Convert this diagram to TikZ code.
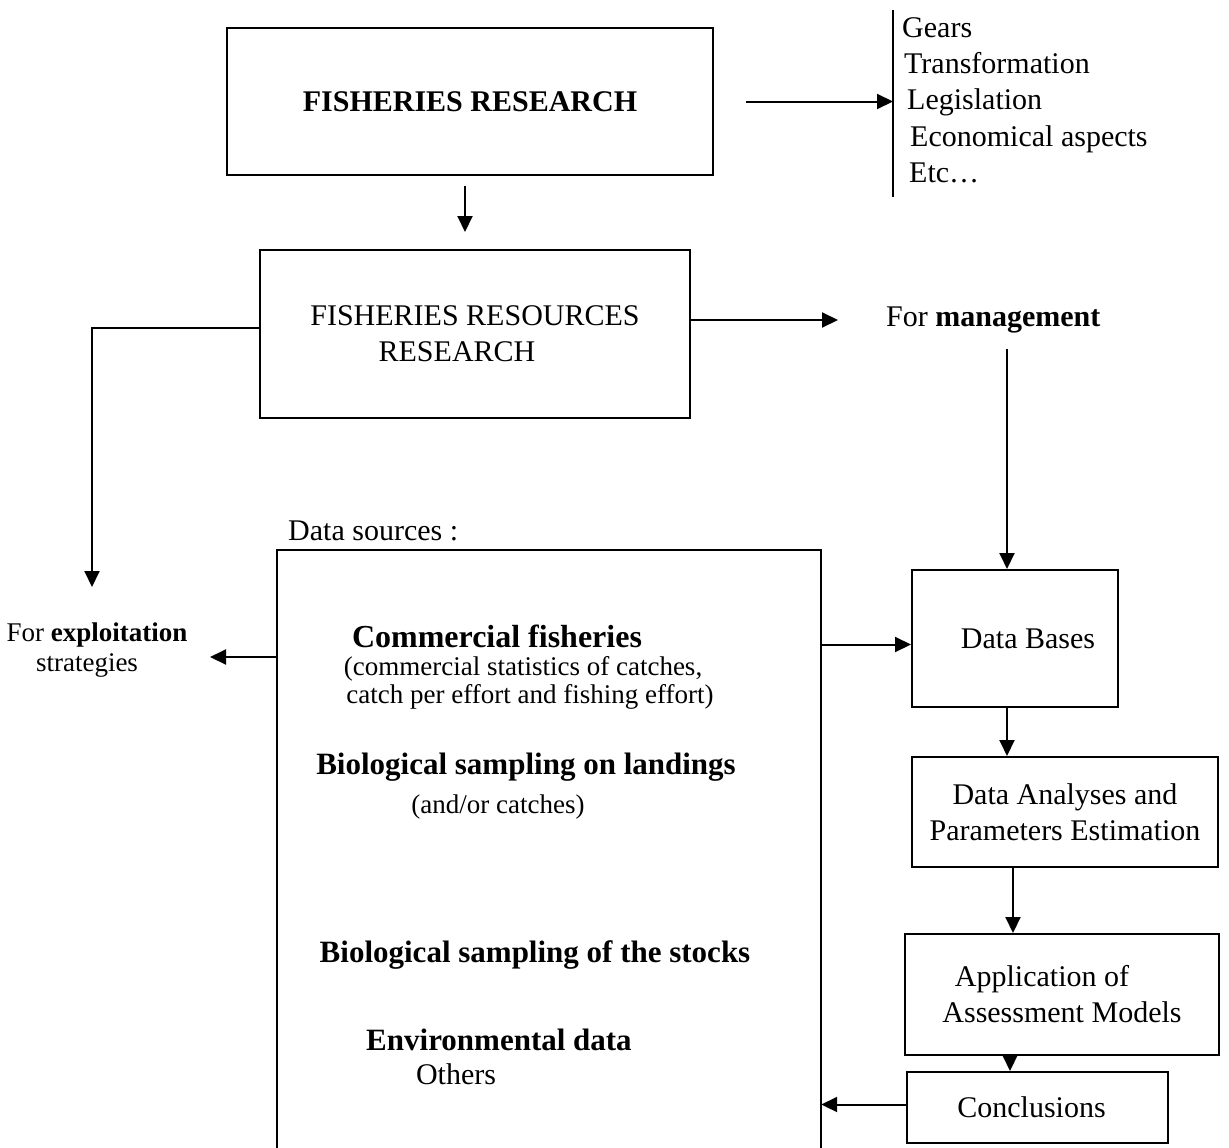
\documentclass[tikz,border=0pt]{standalone}
\usepackage{fontspec}
\setmainfont{Liberation Serif}
\usepackage{tikz}
\usetikzlibrary{arrows.meta,positioning}
\tikzset{
  box/.style={draw=cbox,line width=2pt,inner sep=0pt},
  txt/.style={text=ctxt,inner sep=0pt,font=\fontsize{30}{36}\selectfont},
  sml/.style={text=ctxt,inner sep=0pt,font=\fontsize{27}{30}\selectfont},
  arr/.style={draw=cbox,line width=2pt,-{Triangle[length=16pt,width=15pt]}},
  ln/.style={draw=cbox,line width=2pt}
}
\begin{document}
\begin{tikzpicture}[x=1pt,y=-1pt]
%
\useasboundingbox (0,0) rectangle (1229,1148);
%
\definecolor{cbox}{rgb}{0.0,0.0,0.0}
\definecolor{ctxt}{rgb}{0.0,0.0,0.0}
%
\node[box,txt,minimum width=486pt,minimum height=147pt] (fr) at (470,101.5) {\textbf{FISHERIES RESEARCH}};
\node[box,txt,minimum width=430pt,minimum height=168pt,align=center] (frr) at (475,334) {FISHERIES RESOURCES\\\hspace*{-36pt}RESEARCH};
\node[txt,anchor=west] (mg) at (886,320) {For \textbf{management}};
\node[sml,align=center] (expl) at (97,650) {For \textbf{exploitation}\\\hspace*{-20pt}strategies};
%
\node[txt,anchor=base west] (g1) at (902,38) {Gears};
\node[txt,anchor=base west] (g2) at (904,74) {Transformation};
\node[txt,anchor=base west] (g3) at (907,110) {Legislation};
\node[txt,anchor=base west] (g4) at (910,146) {Economical aspects};
\node[txt,anchor=base west] (g5) at (909,182) {Etc\dots};
\coordinate (lsttop) at (893,10);
\coordinate (lstbot) at (893,197);
%
\node[txt,anchor=base west] (dsrc) at (288,540) {Data sources :};
\node[minimum width=544pt,minimum height=598pt,inner sep=0pt] (src) at (549,849) {};
\node[txt,anchor=base] (s1) at (497,647) {\fontsize{32}{36}\selectfont\textbf{Commercial fisheries}};
\node[sml,anchor=base] (s1a) at (523,675) {(commercial statistics of catches,};
\node[sml,anchor=base] (s1b) at (530,703) {catch per effort and fishing effort)};
\node[txt,anchor=base] (s2) at (526,774) {\fontsize{31}{36}\selectfont\textbf{Biological sampling on landings}};
\node[sml,anchor=base] (s2a) at (498,813) {(and/or catches)};
\node[txt,anchor=base] (s3) at (535,962) {\fontsize{31}{36}\selectfont\textbf{Biological sampling of the stocks}};
\node[txt,anchor=base] (s4) at (499,1050) {\fontsize{31}{36}\selectfont\textbf{Environmental data}};
\node[txt,anchor=base] (s5) at (456,1084) {Others};
%
\node[box,txt,minimum width=206pt,minimum height=137pt] (db) at (1015,638.5) {\hspace*{26pt}Data Bases};
\node[box,txt,minimum width=306pt,minimum height=110pt,align=center] (da) at (1065,812) {Data Analyses and\\Parameters Estimation};
\node[box,txt,minimum width=314pt,minimum height=121pt,align=center] (am) at (1062,994.5) {\hspace*{-40pt}Application of\\Assessment Models};
\node[box,txt,minimum width=261pt,minimum height=71pt] (cc) at (1037.5,1107.5) {\hspace*{-12pt}Conclusions};
%
\coordinate (exin) at (210,657);
\coordinate (exdown) at (92,587);
\coordinate (dbin) at ([yshift=-6pt]db.west);
%
\draw[ln] (lsttop) -- (lstbot);
\draw[ln] (src.south west) -- (src.north west) -- (src.north east) -- (src.south east);
%
\draw[arr,shorten <=32pt] (fr.east) -- (fr.east -| lsttop);
\draw[arr,shorten <=10pt,shorten >=17pt] ([xshift=-5pt]fr.south) -- ([xshift=-10pt]frr.north);
\draw[arr] ([yshift=6pt]frr.west) -| (exdown);
\draw[arr] (frr.east |- mg.west) -- ([xshift=-48pt]mg.west);
\draw[arr,shorten <=16pt] ([xshift=-8pt]db.north |- mg.south) -- ([xshift=-8pt]db.north);
\draw[arr] (src.west |- exin) -- (exin);
\draw[arr] (src.east |- dbin) -- (dbin);
\draw[arr] ([xshift=-8pt]db.south) -- ([xshift=-8pt]db.south |- da.north);
\draw[arr] ([xshift=-52pt]da.south) -- ([xshift=-52pt]da.south |- am.north);
\draw[arr] ([xshift=-52pt]am.south) -- ([xshift=-52pt]am.south |- cc.north);
\draw[arr] ([yshift=3pt]cc.west) -- ([yshift=3pt]cc.west -| src.east);
%
\end{tikzpicture}
\end{document}
